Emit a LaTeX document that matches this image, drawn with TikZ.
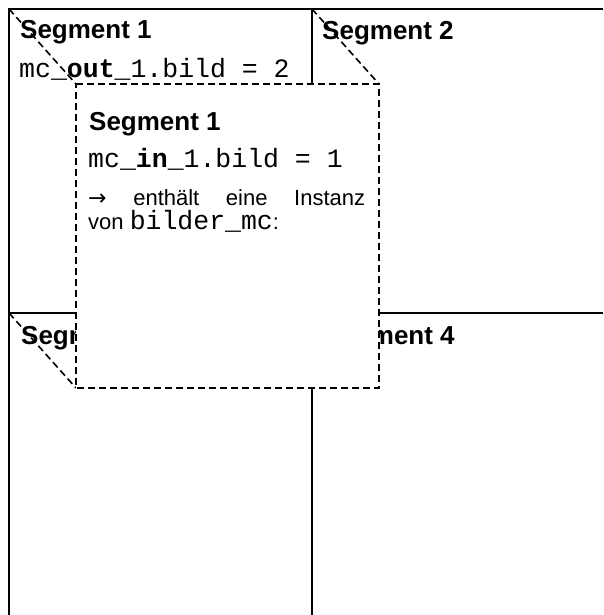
\documentclass[tikz,border=0pt]{standalone}
\usepackage{fontspec}
\setmainfont{Liberation Sans}
\setmonofont{Liberation Mono}
\newfontfamily\arrowfont{DejaVu Sans}
\begin{document}
\begin{tikzpicture}[x=1pt,y=-1pt,
    wall/.style={line width=2pt},
    hidden/.style={line width=1.6pt,dash pattern=on 7pt off 4pt},
    head/.style={anchor=base west,inner sep=0pt,font=\fontsize{26}{30}\selectfont\bfseries},
    code/.style={anchor=base west,inner sep=0pt,font=\fontsize{26.5}{30}\selectfont\ttfamily},
    body/.style={anchor=base west,inner sep=0pt,font=\fontsize{22}{26}\selectfont}]
    \useasboundingbox (0,0) rectangle (603,615);
    % segment borders
    \draw[wall] (603,9) -- (9,9) -- (9,615);
    \draw[wall] (312,9) -- (312,615);
    \draw[wall] (9,313) -- (603,313);
    % segment titles
    \node[head] (seg1) at (20,39) {Segment 1};
    \node[code] (out1) at (19,78) {mc\_\textbf{out}\_1.bild = 2};
    \node[head] (seg2) at (322,40) {Segment 2};
    \node[head] (seg3) at (21,344) {Segment 3};
    \node[head] (seg4) at (323,344) {Segment 4};
    % shifted copy of segment 1
    \coordinate (a1) at (9,9);   \coordinate (b1) at (76,84);
    \coordinate (a2) at (312,9); \coordinate (b2) at (379,84);
    \coordinate (a3) at (9,313); \coordinate (b3) at (76,388);
    \coordinate (a4) at (312,313); \coordinate (b4) at (379,388);
    \foreach \i in {1,...,4}
        \draw[hidden] (a\i) -- (b\i);
    \draw[hidden,fill=white] (b1) -- (b2) -- (b4) -- (b3) -- cycle;
    \node[head] (inseg) at (89,130) {Segment 1};
    \node[code] (in1) at (88,167) {mc\_\textbf{in}\_1.bild = 1};
    \node[body] (instanz) at (88,205) {\makebox[277pt][s]{{\arrowfont →} enthält eine Instanz}};
    \node[body] (von) at (88,229) {von \texttt{\fontsize{26.5}{30}\selectfont bilder\_mc}:};
\end{tikzpicture}
\end{document}
